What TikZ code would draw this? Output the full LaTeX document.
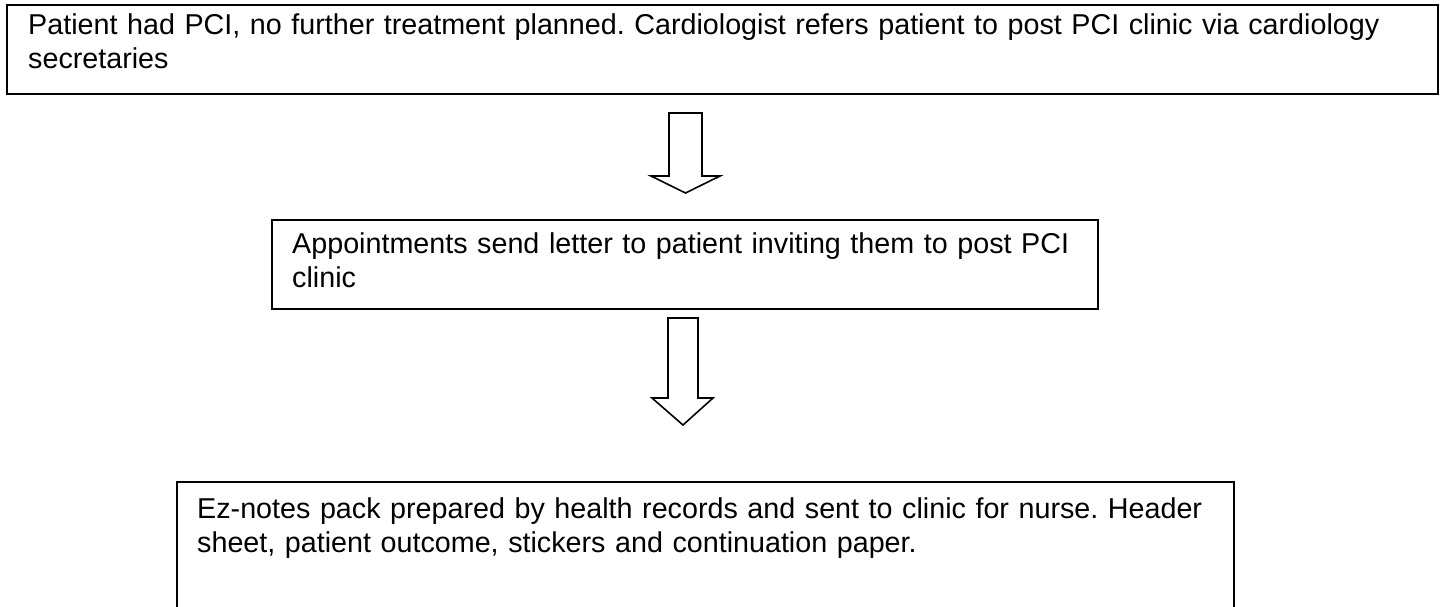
\documentclass[tikz,border=0pt]{standalone}
\usepackage{fontspec}
\setmainfont{Liberation Sans}
\frenchspacing
\begin{document}
\begin{tikzpicture}[x=1pt,y=-1pt,
  boxshape/.style={draw=black, line width=2pt, anchor=north west, inner sep=0pt},
  boxtext/.style={anchor=north west, inner sep=0pt, align=left, font=\fontsize{28.7}{34.5}\selectfont\frenchspacing},
  blockarrow/.style={draw=black, line width=1.6pt, fill=white, line join=miter}]
\useasboundingbox (0,0) rectangle (1440,606);
\clip (0,0) rectangle (1440,606);
% boxes
\node[boxshape, minimum width=1431pt, minimum height=89pt] (b1) at (6,4) {};
\node[boxshape, minimum width=826pt, minimum height=89pt] (b2) at (271,219) {};
\node[boxshape, minimum width=1057pt, minimum height=200pt] (b3) at (176,481) {};
% texts
\node[boxtext, text width=1410pt] (t1) at ([shift={(22,9)}]b1.north west)
  {Patient had PCI, no further treatment planned. Cardiologist refers patient to post PCI clinic via cardiology\\secretaries};
\node[boxtext, text width=805pt] (t2) at ([shift={(21,13)}]b2.north west)
  {Appointments send letter to patient inviting them to post PCI\\clinic};
\node[boxtext, text width=1035pt] (t3) at ([shift={(21,16)}]b3.north west)
  {Ez-notes pack prepared by health records and sent to clinic for nurse. Header\\sheet, patient outcome, stickers and continuation paper.};
% block arrows
\coordinate (a1top) at (685.5,113);
\coordinate (a1tip) at (685.5,193);
\draw[blockarrow] ([xshift=-16.5pt]a1top) -- ([xshift=16.5pt]a1top) -- (702,176) -- (720,176) -- (a1tip) -- (651,176) -- (669,176) -- cycle;
\coordinate (a2top) at (683,318);
\coordinate (a2tip) at (683,425);
\draw[blockarrow] ([xshift=-15pt]a2top) -- ([xshift=15pt]a2top) -- (698,398) -- (713,398) -- (a2tip) -- (652,398) -- (668,398) -- cycle;
\end{tikzpicture}
\end{document}
